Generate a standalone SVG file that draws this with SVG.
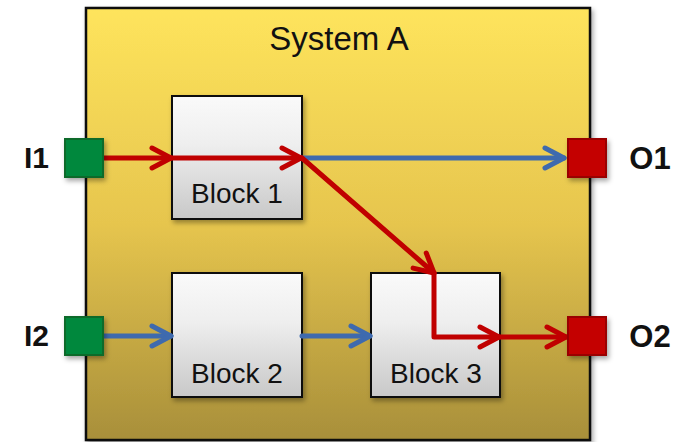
<svg xmlns="http://www.w3.org/2000/svg" width="684" height="442" viewBox="0 0 684 442">
<defs>
<linearGradient id="sysg" x1="0" y1="0" x2="0" y2="1">
<stop offset="0" stop-color="#FEE45C"/>
<stop offset="0.5" stop-color="#E6C54E"/>
<stop offset="1" stop-color="#A88F3A"/>
</linearGradient>
<linearGradient id="blkg" x1="0" y1="0" x2="0" y2="1">
<stop offset="0" stop-color="#FAFAFA"/>
<stop offset="0.4" stop-color="#EEEEEE"/>
<stop offset="1" stop-color="#C8C8C8"/>
</linearGradient>
<filter id="sh" x="-20%" y="-20%" width="150%" height="150%">
<feDropShadow dx="2" dy="3" stdDeviation="2.5" flood-color="#000" flood-opacity="0.35"/>
</filter>
<marker id="ar" markerUnits="userSpaceOnUse" markerWidth="30" markerHeight="30" viewBox="-25 -15 30 30" refX="0" refY="0" orient="auto" overflow="visible">
<path d="M-19,-10 L0,0 L-19,10" fill="none" stroke="#C00000" stroke-width="5" stroke-linecap="round" stroke-linejoin="round"/>
</marker>
<marker id="ab" markerUnits="userSpaceOnUse" markerWidth="30" markerHeight="30" viewBox="-25 -15 30 30" refX="0" refY="0" orient="auto" overflow="visible">
<path d="M-19,-10 L0,0 L-19,10" fill="none" stroke="#3E6AAE" stroke-width="5" stroke-linecap="round" stroke-linejoin="round"/>
</marker>
</defs>
<style>
.blk{fill:url(#blkg);stroke:#111;stroke-width:2;filter:url(#sh)}
.lbl{font-family:"Liberation Sans",Arial,sans-serif;font-size:28px;fill:#111;text-anchor:middle}
.io{font-family:"Liberation Sans",Arial,sans-serif;font-size:30px;font-weight:bold;fill:#111;text-anchor:middle}
.r{fill:none;stroke:#C00000;stroke-width:5;stroke-linecap:round;stroke-linejoin:round}
.b{fill:none;stroke:#3E6AAE;stroke-width:5;stroke-linecap:round}
.pin{fill:#00883D;stroke:#0A6A2A;stroke-width:2;filter:url(#sh)}
.pout{fill:#C40000;stroke:#9A0000;stroke-width:2;filter:url(#sh)}
</style>
<g id="systemA">
<rect x="86" y="8" width="504" height="432" fill="url(#sysg)" stroke="#111" stroke-width="2.5" filter="url(#sh)"/>
<text x="339" y="50" class="lbl" style="font-size:33px">System A</text>
</g>
<g id="block1">
<rect class="blk" x="172" y="96" width="130" height="123"/>
<text x="237" y="203" class="lbl">Block 1</text>
</g>
<g id="block2">
<rect class="blk" x="172" y="273" width="130" height="124"/>
<text x="237" y="383" class="lbl">Block 2</text>
</g>
<g id="block3">
<rect class="blk" x="371" y="273" width="129" height="124"/>
<text x="436" y="383" class="lbl">Block 3</text>
</g>
<g id="connectors">
<line class="b" x1="302" y1="158" x2="564" y2="158" marker-end="url(#ab)"/>
<line class="r" x1="103" y1="158" x2="171" y2="158" marker-end="url(#ar)"/>
<line class="r" x1="172" y1="158" x2="301" y2="158" marker-end="url(#ar)"/>
<line class="r" x1="302" y1="158" x2="434" y2="273" marker-end="url(#ar)"/>
<path class="r" d="M434,273 L434,337 L499,337" marker-end="url(#ar)"/>
<line class="r" x1="500" y1="337" x2="566" y2="337" marker-end="url(#ar)"/>
<line class="b" x1="103" y1="336" x2="171" y2="336" marker-end="url(#ab)"/>
<line class="b" x1="302" y1="336" x2="370" y2="336" marker-end="url(#ab)"/>
</g>
<g id="I1">
<rect class="pin" x="65" y="139" width="38" height="38"/>
<text x="36.5" y="168" class="io">I1</text>
</g>
<g id="I2">
<rect class="pin" x="65" y="317" width="38" height="38"/>
<text x="36.5" y="346" class="io">I2</text>
</g>
<g id="O1">
<rect class="pout" x="568" y="139" width="38" height="38"/>
<text x="650" y="169" class="io" style="font-size:31px">O1</text>
</g>
<g id="O2">
<rect class="pout" x="568" y="317" width="38" height="38"/>
<text x="650" y="347" class="io" style="font-size:31px">O2</text>
</g>
</svg>
